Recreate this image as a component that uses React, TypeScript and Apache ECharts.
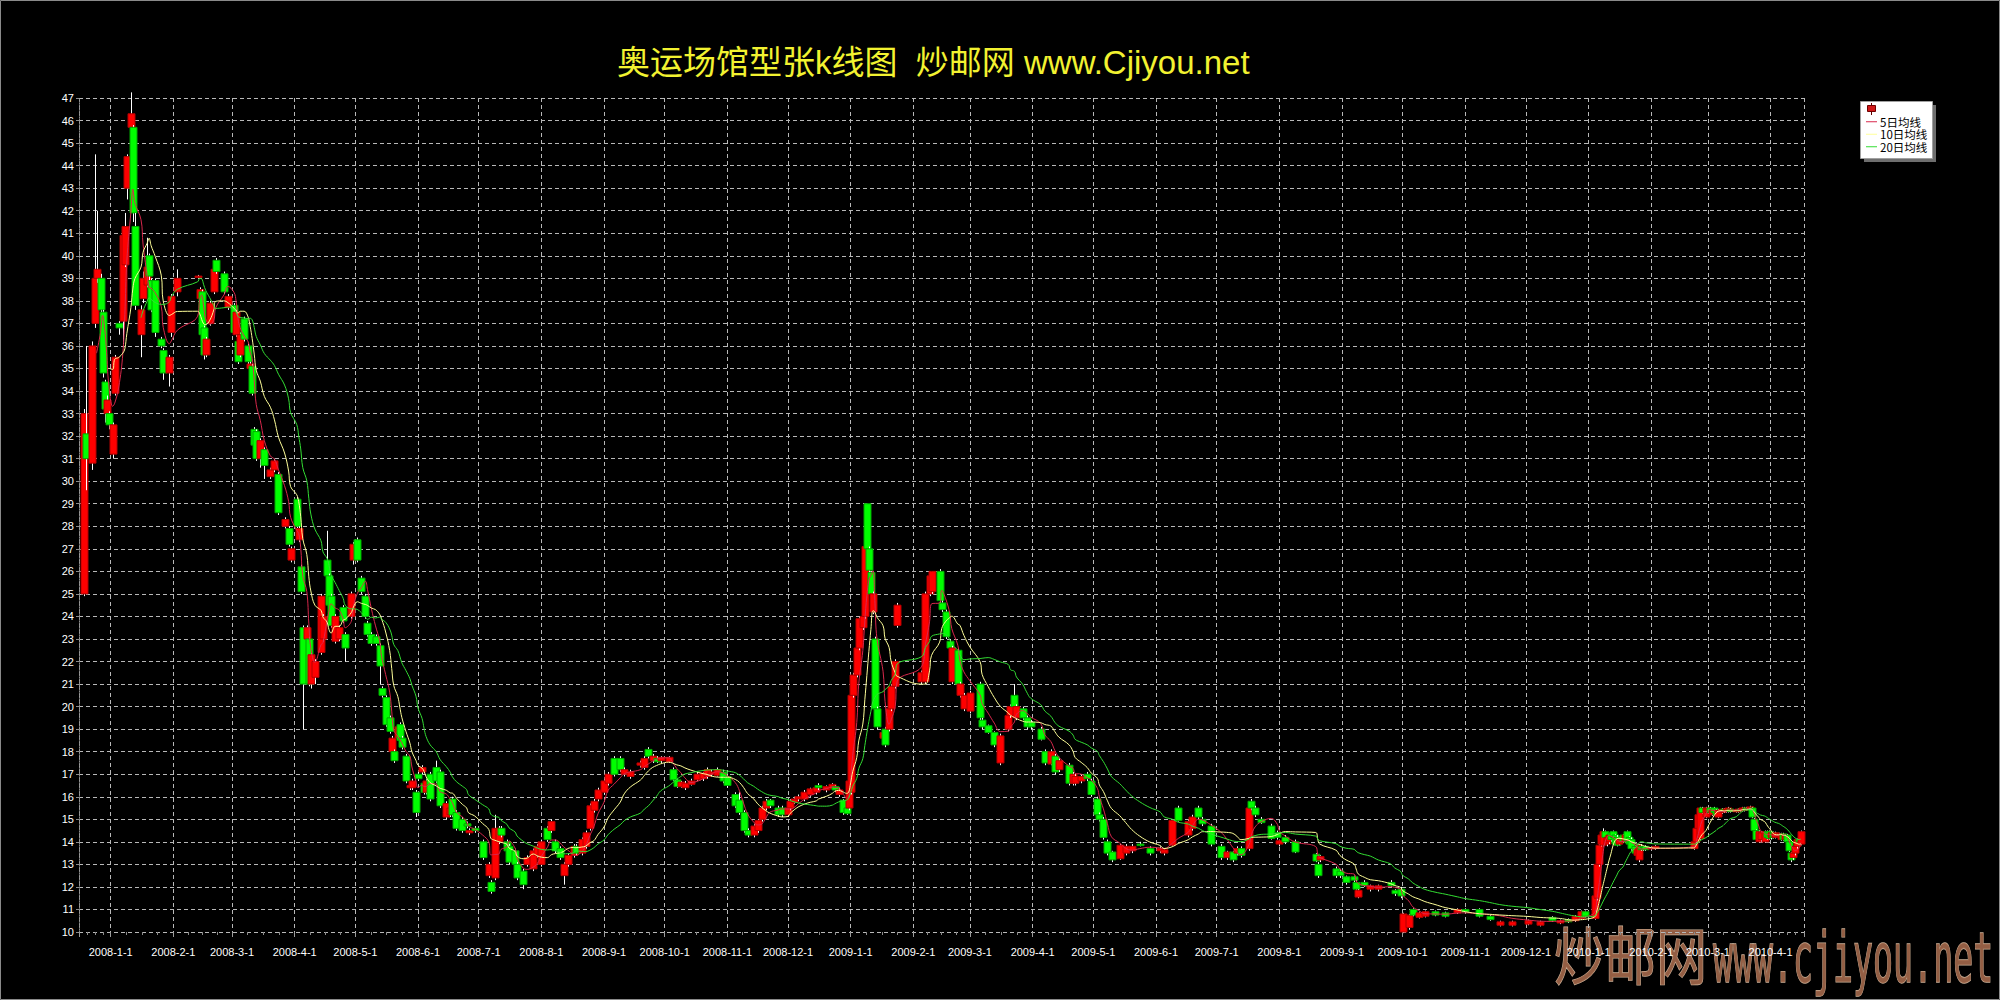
import React, { useEffect, useRef } from 'react';
import * as echarts from 'echarts';

const TITLE = '奥运场馆型张k线图  炒邮网 www.Cjiyou.net';
const WATERMARK_CN = '炒邮网';
const WATERMARK_EN = 'www.cjiyou.net';
const CANDLE_NAME = 'K线';
const MA_NAMES = ['5日均线', '10日均线', '20日均线'];
const MA_PERIODS = [5, 10, 20];
const MA_COLORS = ['#d8284c', '#ffff99', '#33dd33'];
const Y_MIN = 10;
const Y_MAX = 47;

// [date, open, close, low, high]
const k2007 = [
  ['2007-12-19', 25.0, 33.0, 24.9, 33.2],
  ['2007-12-20', 32.1, 31.0, 29.6, 36.0],
  ['2007-12-23', 30.8, 36.0, 30.5, 36.2],
  ['2007-12-24', 37.0, 39.0, 36.8, 44.5],
  ['2007-12-25', 39.0, 39.4, 38.8, 42.0],
  ['2007-12-27', 39.0, 37.6, 37.4, 39.2],
  ['2007-12-28', 37.5, 34.8, 34.6, 37.6],
  ['2007-12-29', 34.4, 33.2, 32.6, 34.5],
  ['2007-12-30', 33.0, 33.6, 32.8, 33.8],
  ['2007-12-31', 33.0, 32.5, 32.3, 33.1],
];

const k2008a = [
  ['2008-01-02', 31.2, 32.5, 31.0, 32.6],
  ['2008-01-03', 33.9, 35.5, 33.8, 35.6],
  ['2008-01-05', 37.0, 36.8, 36.5, 37.1],
  ['2008-01-07', 37.1, 40.9, 36.0, 41.2],
  ['2008-01-08', 39.6, 41.3, 39.5, 41.9],
  ['2008-01-09', 43.0, 44.4, 42.5, 44.5],
  ['2008-01-11', 45.7, 46.3, 45.6, 47.25],
  ['2008-01-12', 45.7, 41.9, 41.5, 45.8],
  ['2008-01-13', 41.3, 37.8, 37.6, 41.9],
  ['2008-01-16', 36.5, 37.6, 35.5, 37.8],
  ['2008-01-17', 38.1, 39.0, 37.9, 39.3],
  ['2008-01-19', 38.7, 39.5, 38.6, 40.8],
  ['2008-01-20', 40.0, 39.1, 38.9, 40.1],
  ['2008-01-21', 38.9, 37.6, 37.5, 39.0],
  ['2008-01-23', 38.9, 36.6, 36.4, 39.0],
  ['2008-01-26', 36.3, 36.0, 35.9, 36.4],
  ['2008-01-27', 35.8, 34.8, 34.5, 35.9],
  ['2008-01-30', 34.8, 35.5, 34.2, 35.6],
  ['2008-01-31', 36.6, 38.2, 36.4, 38.3],
  ['2008-02-03', 38.4, 39.0, 38.2, 39.4],
  ['2008-02-13', 39.05, 39.1, 39.0, 39.15],
  ['2008-02-14', 38.1, 38.5, 38.0, 38.6],
  ['2008-02-15', 38.4, 36.5, 36.4, 38.5],
  ['2008-02-16', 36.8, 35.6, 35.4, 36.9],
  ['2008-02-17', 35.6, 36.3, 35.5, 36.4],
  ['2008-02-19', 37.0, 37.9, 36.9, 38.0],
  ['2008-02-21', 38.4, 39.4, 38.3, 39.5],
  ['2008-02-22', 39.8, 39.3, 39.2, 39.9],
  ['2008-02-26', 39.2, 38.4, 38.3, 39.3],
  ['2008-02-28', 37.7, 38.2, 37.6, 38.3],
  ['2008-03-02', 37.8, 36.6, 36.5, 37.9],
  ['2008-03-03', 36.5, 37.5, 36.4, 37.6],
  ['2008-03-04', 36.2, 35.3, 35.2, 36.3],
  ['2008-03-05', 35.6, 36.5, 35.5, 36.6],
  ['2008-03-07', 37.2, 36.3, 36.2, 37.3],
  ['2008-03-09', 36.0, 35.3, 35.2, 36.1],
  ['2008-03-10', 35.0, 35.2, 34.9, 35.3],
  ['2008-03-11', 35.1, 33.9, 33.8, 35.2],
  ['2008-03-12', 32.3, 31.6, 31.5, 32.4],
  ['2008-03-13', 32.2, 31.0, 30.9, 32.3],
  ['2008-03-15', 31.0, 31.8, 30.6, 31.9],
  ['2008-03-17', 31.4, 30.7, 30.1, 31.5],
  ['2008-03-20', 30.2, 30.5, 30.1, 30.6],
  ['2008-03-22', 30.5, 30.9, 30.4, 31.0],
  ['2008-03-24', 30.3, 28.6, 28.5, 30.4],
  ['2008-03-27', 28.0, 28.3, 27.9, 28.4],
  ['2008-03-29', 27.9, 27.2, 27.1, 28.0],
  ['2008-03-30', 26.5, 27.0, 26.4, 27.1],
  ['2008-04-02', 29.2, 28.0, 27.9, 29.3],
  ['2008-04-03', 27.4, 27.9, 27.3, 28.0],
  ['2008-04-04', 26.2, 25.1, 25.0, 26.3],
  ['2008-04-05', 23.5, 21.0, 19.0, 23.6],
  ['2008-04-07', 23.0, 23.5, 22.8, 23.6],
  ['2008-04-08', 23.0, 21.0, 20.9, 23.1],
  ['2008-04-09', 21.0, 22.3, 20.8, 22.4],
  ['2008-04-11', 21.3, 22.0, 21.0, 22.1],
  ['2008-04-14', 22.4, 24.9, 22.3, 25.0],
  ['2008-04-15', 23.0, 24.0, 22.9, 24.1],
  ['2008-04-17', 26.5, 25.8, 25.7, 27.8],
  ['2008-04-18', 25.8, 24.5, 24.4, 25.9],
  ['2008-04-19', 24.9, 23.6, 23.5, 25.0],
  ['2008-04-21', 22.9, 24.0, 22.8, 24.1],
  ['2008-04-23', 23.0, 23.5, 22.9, 23.6],
  ['2008-04-25', 24.4, 23.8, 23.7, 24.5],
  ['2008-04-26', 23.2, 22.6, 22.0, 23.3],
  ['2008-04-29', 24.0, 25.0, 23.9, 25.1],
  ['2008-04-30', 26.5, 27.2, 26.3, 27.3],
];

const k2008b = [
  ['2008-05-02', 27.4, 26.5, 26.4, 27.5],
  ['2008-05-04', 25.7, 25.1, 25.0, 25.8],
  ['2008-05-06', 24.9, 24.0, 23.9, 25.0],
  ['2008-05-07', 23.7, 23.2, 23.1, 23.8],
  ['2008-05-09', 23.2, 22.8, 22.7, 23.3],
  ['2008-05-11', 23.1, 22.8, 22.7, 23.2],
  ['2008-05-13', 22.7, 21.8, 21.0, 22.8],
  ['2008-05-14', 20.8, 20.5, 20.4, 20.9],
  ['2008-05-16', 20.4, 19.2, 19.1, 20.5],
  ['2008-05-18', 19.5, 18.9, 18.8, 19.6],
  ['2008-05-19', 18.0, 18.6, 17.9, 18.7],
  ['2008-05-20', 18.0, 17.6, 17.5, 18.1],
  ['2008-05-22', 18.6, 19.1, 18.5, 19.2],
  ['2008-05-23', 19.2, 18.5, 18.4, 19.3],
  ['2008-05-24', 18.6, 18.2, 18.1, 18.7],
  ['2008-05-26', 17.8, 16.7, 16.6, 17.9],
  ['2008-05-28', 16.4, 16.5, 16.3, 16.6],
  ['2008-05-29', 16.4, 16.7, 16.3, 16.8],
  ['2008-05-31', 16.2, 15.3, 15.1, 16.3],
  ['2008-06-01', 17.0, 16.8, 16.7, 17.1],
  ['2008-06-03', 17.1, 17.3, 17.0, 17.4],
  ['2008-06-04', 16.6, 16.2, 16.1, 16.7],
  ['2008-06-05', 16.2, 16.7, 16.1, 16.8],
  ['2008-06-07', 17.0, 15.9, 15.8, 17.1],
  ['2008-06-10', 17.3, 16.7, 16.6, 17.6],
  ['2008-06-12', 17.1, 15.6, 15.5, 17.2],
  ['2008-06-15', 15.1, 15.7, 15.0, 15.8],
  ['2008-06-17', 15.2, 15.5, 15.1, 15.6],
  ['2008-06-18', 15.9, 15.2, 15.1, 16.0],
  ['2008-06-20', 15.3, 14.6, 14.5, 15.4],
  ['2008-06-23', 15.0, 14.5, 14.4, 15.1],
  ['2008-06-25', 14.8, 14.7, 14.6, 14.9],
  ['2008-06-26', 14.4, 14.5, 14.3, 14.6],
  ['2008-06-29', 14.6, 14.5, 14.4, 14.7],
  ['2008-07-03', 14.0, 13.3, 13.2, 14.1],
  ['2008-07-06', 12.5, 13.0, 12.4, 13.1],
  ['2008-07-07', 12.2, 11.8, 11.7, 12.3],
  ['2008-07-09', 12.4, 14.6, 12.3, 15.2],
  ['2008-07-11', 14.0, 14.6, 13.9, 14.7],
  ['2008-07-12', 14.6, 14.3, 14.2, 14.7],
  ['2008-07-15', 14.0, 13.6, 13.5, 14.1],
  ['2008-07-16', 13.8, 13.1, 13.0, 13.9],
  ['2008-07-19', 13.6, 13.0, 12.9, 13.7],
  ['2008-07-20', 13.0, 12.4, 12.3, 13.1],
  ['2008-07-23', 12.7, 12.1, 11.9, 12.8],
  ['2008-07-25', 13.0, 13.3, 12.9, 13.4],
  ['2008-07-28', 12.8, 13.6, 12.7, 13.7],
  ['2008-07-30', 13.4, 13.8, 13.3, 13.9],
  ['2008-08-01', 13.0, 14.0, 12.9, 14.1],
  ['2008-08-04', 14.6, 14.1, 14.0, 14.7],
  ['2008-08-06', 14.5, 14.9, 14.4, 15.0],
  ['2008-08-08', 14.0, 13.6, 13.5, 14.1],
  ['2008-08-10', 13.7, 13.3, 13.2, 13.8],
  ['2008-08-12', 12.5, 13.0, 12.1, 13.1],
  ['2008-08-14', 13.0, 13.4, 12.9, 13.5],
  ['2008-08-17', 13.4, 13.8, 13.3, 13.9],
  ['2008-08-18', 13.8, 13.5, 13.4, 13.9],
  ['2008-08-21', 13.5, 14.1, 13.4, 14.2],
  ['2008-08-23', 13.8, 14.4, 13.7, 14.5],
  ['2008-08-25', 14.6, 15.6, 14.5, 15.7],
  ['2008-08-27', 15.4, 15.8, 15.3, 15.9],
  ['2008-08-29', 15.9, 16.3, 15.8, 16.4],
];

const k2008c = [
  ['2008-09-01', 16.2, 16.7, 16.1, 16.8],
  ['2008-09-03', 16.6, 17.0, 16.5, 17.1],
  ['2008-09-06', 17.7, 17.0, 16.9, 17.8],
  ['2008-09-09', 17.7, 17.2, 17.1, 17.8],
  ['2008-09-11', 17.0, 17.2, 16.9, 17.3],
  ['2008-09-14', 16.9, 17.1, 16.8, 17.2],
  ['2008-09-19', 17.4, 17.5, 17.3, 17.6],
  ['2008-09-21', 17.3, 17.7, 17.2, 17.8],
  ['2008-09-23', 18.1, 17.8, 17.7, 18.2],
  ['2008-09-25', 17.6, 17.8, 17.5, 17.9],
  ['2008-09-27', 17.7, 17.55, 17.5, 17.8],
  ['2008-09-29', 17.6, 17.75, 17.5, 17.8],
  ['2008-10-03', 17.55, 17.75, 17.5, 17.8],
  ['2008-10-05', 17.2, 16.75, 16.7, 17.3],
  ['2008-10-07', 16.75, 16.45, 16.4, 16.8],
  ['2008-10-09', 16.45, 16.65, 16.4, 16.7],
  ['2008-10-11', 16.4, 16.6, 16.3, 16.7],
  ['2008-10-14', 16.55, 16.7, 16.5, 16.8],
  ['2008-10-17', 16.75, 17.0, 16.7, 17.1],
  ['2008-10-20', 16.8, 17.05, 16.7, 17.1],
  ['2008-10-22', 16.9, 17.2, 16.8, 17.3],
  ['2008-10-24', 17.0, 17.1, 16.9, 17.2],
  ['2008-10-27', 16.95, 17.2, 16.9, 17.3],
  ['2008-10-30', 17.1, 16.7, 16.6, 17.2],
  ['2008-11-01', 16.9, 16.5, 16.4, 17.0],
  ['2008-11-05', 16.1, 15.6, 15.5, 16.2],
  ['2008-11-07', 15.85, 15.3, 15.2, 16.2],
  ['2008-11-09', 15.3, 14.5, 14.4, 15.4],
  ['2008-11-11', 14.5, 14.3, 14.2, 14.6],
  ['2008-11-14', 14.3, 14.7, 14.2, 14.8],
  ['2008-11-16', 14.5, 14.95, 14.4, 15.0],
  ['2008-11-18', 15.0, 15.5, 14.9, 15.6],
  ['2008-11-20', 15.5, 15.8, 15.4, 15.9],
  ['2008-11-22', 15.85, 15.6, 15.5, 15.9],
  ['2008-11-26', 15.5, 15.2, 15.1, 15.6],
  ['2008-11-28', 15.5, 15.2, 15.1, 15.6],
  ['2008-12-01', 15.2, 15.5, 15.1, 15.6],
  ['2008-12-02', 15.5, 15.8, 15.4, 15.9],
  ['2008-12-04', 15.75, 15.9, 15.7, 16.0],
  ['2008-12-06', 15.9, 16.0, 15.8, 16.1],
  ['2008-12-09', 15.9, 16.2, 15.8, 16.3],
  ['2008-12-12', 16.1, 16.35, 16.0, 16.4],
  ['2008-12-15', 16.2, 16.4, 16.1, 16.5],
  ['2008-12-16', 16.5, 16.4, 16.3, 16.6],
  ['2008-12-20', 16.3, 16.45, 16.2, 16.5],
  ['2008-12-23', 16.35, 16.55, 16.3, 16.6],
  ['2008-12-24', 16.45, 16.3, 16.2, 16.5],
  ['2008-12-26', 16.1, 16.3, 16.0, 16.4],
  ['2008-12-28', 15.85, 15.3, 15.2, 15.9],
  ['2008-12-30', 15.5, 15.25, 15.2, 15.6],
  ['2008-12-31', 15.5, 16.7, 15.4, 16.8],
];

const k2009a = [
  ['2009-01-01', 16.2, 20.5, 16.1, 20.6],
  ['2009-01-02', 20.5, 21.4, 20.4, 21.5],
  ['2009-01-04', 21.4, 22.6, 21.3, 22.7],
  ['2009-01-05', 22.6, 23.9, 22.5, 24.0],
  ['2009-01-07', 23.5, 24.0, 23.4, 24.1],
  ['2009-01-08', 24.0, 27.1, 23.9, 27.2],
  ['2009-01-09', 29.0, 27.0, 26.9, 29.0],
  ['2009-01-10', 27.0, 26.05, 25.9, 27.1],
  ['2009-01-11', 25.95, 25.0, 24.9, 26.0],
  ['2009-01-12', 24.2, 25.0, 24.1, 25.1],
  ['2009-01-13', 23.0, 19.9, 19.8, 23.1],
  ['2009-01-14', 19.9, 19.1, 19.0, 20.0],
  ['2009-01-17', 18.6, 18.85, 18.5, 18.9],
  ['2009-01-18', 19.0, 18.3, 18.2, 19.1],
  ['2009-01-20', 19.0, 19.9, 18.9, 20.0],
  ['2009-01-21', 19.9, 20.9, 19.8, 21.0],
  ['2009-01-23', 20.9, 22.0, 20.8, 22.1],
  ['2009-01-24', 23.6, 24.5, 23.5, 24.6],
  ['2009-02-05', 21.1, 21.5, 21.0, 21.6],
  ['2009-02-07', 21.1, 25.0, 21.0, 25.1],
  ['2009-02-09', 25.0, 25.8, 24.9, 26.0],
  ['2009-02-10', 25.1, 26.0, 25.0, 26.0],
  ['2009-02-14', 26.0, 24.7, 24.6, 26.1],
  ['2009-02-15', 24.6, 24.3, 24.2, 24.7],
  ['2009-02-17', 24.2, 23.1, 23.0, 24.3],
  ['2009-02-19', 22.9, 22.6, 22.5, 23.0],
  ['2009-02-20', 21.1, 22.6, 21.0, 22.7],
  ['2009-02-23', 22.5, 21.0, 20.9, 22.6],
  ['2009-02-24', 20.5, 21.0, 20.4, 21.1],
  ['2009-02-26', 19.9, 20.5, 19.8, 20.6],
  ['2009-03-01', 19.8, 20.6, 19.7, 20.7],
  ['2009-03-06', 21.0, 19.5, 19.4, 21.1],
  ['2009-03-07', 19.4, 19.1, 19.0, 19.5],
  ['2009-03-10', 19.15, 18.85, 18.8, 19.2],
  ['2009-03-13', 18.85, 18.3, 18.2, 18.9],
  ['2009-03-16', 17.5, 18.7, 17.4, 18.8],
  ['2009-03-20', 19.0, 19.6, 18.9, 19.7],
  ['2009-03-21', 19.6, 20.0, 19.5, 20.1],
  ['2009-03-23', 20.5, 20.0, 19.9, 21.0],
  ['2009-03-24', 19.5, 20.0, 19.4, 20.1],
  ['2009-03-27', 19.9, 19.5, 19.4, 20.0],
  ['2009-03-29', 19.5, 19.1, 19.0, 19.6],
  ['2009-03-31', 19.3, 19.1, 19.0, 19.4],
  ['2009-04-05', 19.0, 18.55, 18.5, 19.1],
  ['2009-04-07', 18.0, 17.5, 17.4, 18.1],
  ['2009-04-10', 17.45, 18.0, 17.4, 18.1],
  ['2009-04-12', 17.8, 17.1, 17.0, 17.9],
  ['2009-04-14', 17.2, 17.6, 17.1, 17.7],
  ['2009-04-19', 17.4, 16.6, 16.5, 17.5],
  ['2009-04-21', 16.6, 17.0, 16.5, 17.1],
  ['2009-04-22', 16.6, 16.9, 16.5, 17.0],
  ['2009-04-25', 16.7, 16.9, 16.6, 17.0],
  ['2009-04-28', 17.0, 16.8, 16.7, 17.1],
  ['2009-04-30', 16.7, 16.1, 16.0, 16.8],
  ['2009-05-03', 15.9, 15.2, 15.1, 16.0],
  ['2009-05-04', 15.2, 15.0, 14.9, 15.3],
  ['2009-05-06', 15.0, 14.2, 14.1, 15.1],
  ['2009-05-08', 14.0, 13.5, 13.4, 14.1],
  ['2009-05-10', 13.55, 13.2, 13.1, 13.6],
  ['2009-05-14', 13.25, 13.85, 13.2, 13.9],
  ['2009-05-17', 13.5, 13.8, 13.4, 13.9],
  ['2009-05-20', 13.6, 13.8, 13.5, 13.9],
  ['2009-05-24', 13.9, 13.85, 13.8, 14.0],
  ['2009-05-29', 13.7, 13.5, 13.4, 13.8],
  ['2009-06-03', 13.6, 13.7, 13.5, 13.8],
  ['2009-06-05', 13.5, 13.65, 13.4, 13.7],
  ['2009-06-09', 13.85, 14.95, 13.8, 15.0],
  ['2009-06-12', 15.5, 14.95, 14.9, 15.6],
  ['2009-06-17', 14.3, 14.9, 14.2, 15.0],
  ['2009-06-19', 14.6, 15.1, 14.5, 15.2],
  ['2009-06-22', 15.5, 15.1, 15.0, 15.6],
  ['2009-06-24', 15.0, 14.8, 14.7, 15.1],
  ['2009-06-28', 14.7, 13.9, 13.8, 14.8],
];

const k2009b = [
  ['2009-07-03', 13.8, 13.3, 13.2, 13.9],
  ['2009-07-06', 13.3, 13.55, 13.2, 13.6],
  ['2009-07-09', 13.55, 13.2, 13.1, 13.6],
  ['2009-07-11', 13.5, 13.7, 13.4, 13.8],
  ['2009-07-13', 13.7, 13.4, 13.3, 13.8],
  ['2009-07-17', 13.7, 15.5, 13.6, 15.6],
  ['2009-07-18', 15.8, 15.5, 15.4, 15.9],
  ['2009-07-20', 15.5, 15.2, 15.1, 15.6],
  ['2009-07-23', 15.0, 14.85, 14.8, 15.1],
  ['2009-07-28', 14.7, 14.15, 14.1, 14.8],
  ['2009-07-31', 14.4, 14.2, 14.1, 14.5],
  ['2009-08-01', 13.9, 14.05, 13.8, 14.1],
  ['2009-08-04', 14.2, 14.0, 13.9, 14.3],
  ['2009-08-09', 14.0, 13.55, 13.5, 14.1],
  ['2009-08-19', 13.45, 13.15, 13.1, 13.5],
  ['2009-08-20', 13.0, 12.5, 12.4, 13.1],
  ['2009-08-21', 13.2, 13.35, 13.1, 13.4],
  ['2009-08-29', 12.8, 12.5, 12.4, 12.9],
  ['2009-08-31', 12.7, 12.5, 12.4, 12.8],
  ['2009-09-03', 12.45, 12.2, 12.1, 12.5],
  ['2009-09-07', 12.45, 12.3, 12.2, 12.5],
  ['2009-09-08', 12.2, 11.9, 11.8, 12.3],
  ['2009-09-09', 11.55, 11.85, 11.5, 11.9],
  ['2009-09-12', 12.2, 12.05, 12.0, 12.3],
  ['2009-09-15', 11.9, 12.05, 11.8, 12.1],
  ['2009-09-19', 11.9, 12.05, 11.8, 12.1],
  ['2009-09-25', 12.2, 12.05, 12.0, 12.3],
  ['2009-09-27', 11.85, 11.7, 11.6, 11.9],
  ['2009-09-30', 11.9, 11.6, 11.5, 12.0],
  ['2009-10-01', 10.0, 10.8, 9.95, 10.85],
  ['2009-10-04', 10.2, 10.75, 10.1, 10.8],
  ['2009-10-06', 11.0, 10.75, 10.7, 11.05],
  ['2009-10-09', 10.65, 10.85, 10.6, 10.9],
  ['2009-10-12', 10.7, 10.9, 10.65, 10.95],
  ['2009-10-17', 10.9, 10.75, 10.7, 10.95],
  ['2009-10-22', 10.85, 10.7, 10.65, 10.9],
  ['2009-10-28', 10.85, 11.0, 10.8, 11.05],
  ['2009-11-01', 11.0, 10.9, 10.85, 11.05],
  ['2009-11-08', 11.0, 10.7, 10.65, 11.05],
  ['2009-11-13', 10.7, 10.55, 10.5, 10.75],
  ['2009-11-18', 10.3, 10.45, 10.25, 10.5],
  ['2009-11-24', 10.3, 10.45, 10.25, 10.5],
  ['2009-12-02', 10.35, 10.5, 10.3, 10.55],
  ['2009-12-08', 10.3, 10.45, 10.25, 10.5],
  ['2009-12-14', 10.65, 10.5, 10.45, 10.7],
  ['2009-12-18', 10.4, 10.5, 10.35, 10.55],
  ['2009-12-22', 10.55, 10.45, 10.4, 10.6],
  ['2009-12-25', 10.5, 10.7, 10.45, 10.75],
  ['2009-12-28', 10.6, 10.9, 10.55, 10.95],
  ['2009-12-30', 10.9, 10.7, 10.65, 10.95],
];

const k2010 = [
  ['2010-01-04', 10.6, 11.6, 10.55, 11.7],
  ['2010-01-05', 11.5, 13.0, 11.4, 13.1],
  ['2010-01-06', 13.0, 13.85, 12.9, 13.9],
  ['2010-01-07', 13.9, 14.3, 13.8, 14.4],
  ['2010-01-08', 13.85, 14.45, 13.8, 14.6],
  ['2010-01-09', 14.45, 14.2, 14.1, 14.5],
  ['2010-01-10', 13.9, 14.2, 13.8, 14.3],
  ['2010-01-11', 14.0, 14.3, 13.9, 14.35],
  ['2010-01-12', 14.4, 14.1, 14.0, 14.45],
  ['2010-01-13', 14.45, 14.2, 14.1, 14.5],
  ['2010-01-14', 14.3, 13.9, 13.85, 14.35],
  ['2010-01-15', 14.2, 13.85, 13.8, 14.3],
  ['2010-01-16', 13.9, 14.1, 13.85, 14.15],
  ['2010-01-18', 14.3, 14.0, 13.95, 14.35],
  ['2010-01-19', 14.0, 14.3, 13.95, 14.4],
  ['2010-01-20', 14.45, 14.0, 13.9, 14.5],
  ['2010-01-21', 14.2, 13.9, 13.85, 14.25],
  ['2010-01-22', 14.1, 13.7, 13.6, 14.2],
  ['2010-01-24', 13.8, 13.5, 13.4, 13.85],
  ['2010-01-25', 13.4, 13.7, 13.2, 13.75],
  ['2010-01-26', 13.2, 13.85, 13.1, 13.9],
  ['2010-01-27', 13.8, 13.65, 13.6, 13.9],
  ['2010-01-28', 13.75, 13.7, 13.6, 13.8],
  ['2010-01-29', 13.8, 13.65, 13.6, 13.85],
  ['2010-02-01', 13.7, 13.75, 13.65, 13.8],
  ['2010-02-03', 13.7, 13.8, 13.65, 13.85],
  ['2010-02-22', 13.7, 14.0, 13.65, 14.05],
  ['2010-02-23', 14.0, 14.6, 13.95, 14.65],
  ['2010-02-24', 14.6, 15.2, 14.55, 15.25],
  ['2010-02-25', 14.15, 15.5, 14.1, 15.55],
  ['2010-02-26', 15.5, 15.3, 15.25, 15.55],
  ['2010-02-28', 15.1, 15.5, 15.05, 15.55],
  ['2010-03-01', 15.3, 15.5, 15.25, 15.55],
  ['2010-03-02', 15.5, 15.3, 15.2, 15.55],
  ['2010-03-03', 15.2, 15.4, 15.15, 15.45],
  ['2010-03-04', 15.5, 15.3, 15.25, 15.55],
  ['2010-03-05', 15.4, 15.2, 15.15, 15.45],
  ['2010-03-06', 15.1, 15.4, 15.05, 15.45],
  ['2010-03-08', 15.3, 15.45, 15.25, 15.5],
  ['2010-03-09', 15.45, 15.35, 15.3, 15.5],
  ['2010-03-10', 15.35, 15.45, 15.3, 15.5],
  ['2010-03-11', 15.35, 15.5, 15.3, 15.55],
  ['2010-03-12', 15.45, 15.35, 15.3, 15.5],
  ['2010-03-15', 15.35, 15.4, 15.3, 15.45],
  ['2010-03-16', 15.35, 15.45, 15.3, 15.5],
  ['2010-03-17', 15.45, 15.4, 15.35, 15.5],
  ['2010-03-18', 15.4, 15.5, 15.35, 15.55],
  ['2010-03-19', 15.4, 15.5, 15.35, 15.55],
  ['2010-03-20', 15.5, 15.45, 15.4, 15.55],
  ['2010-03-22', 15.45, 15.55, 15.4, 15.6],
  ['2010-03-23', 15.5, 15.1, 15.05, 15.55],
  ['2010-03-24', 15.0, 14.5, 14.45, 15.05],
  ['2010-03-25', 14.5, 14.1, 14.0, 14.55],
  ['2010-03-26', 14.0, 14.45, 13.95, 14.5],
  ['2010-03-27', 14.1, 14.4, 14.0, 14.45],
  ['2010-03-29', 14.0, 14.45, 13.95, 14.5],
  ['2010-03-30', 14.45, 14.2, 14.1, 14.5],
  ['2010-03-31', 14.45, 14.15, 14.1, 14.5],
  ['2010-04-01', 14.2, 14.4, 14.1, 14.45],
  ['2010-04-02', 14.4, 14.2, 14.15, 14.45],
  ['2010-04-03', 14.2, 14.4, 14.15, 14.45],
  ['2010-04-05', 14.2, 14.35, 14.1, 14.4],
  ['2010-04-06', 14.1, 14.35, 14.05, 14.4],
  ['2010-04-07', 14.35, 14.1, 14.05, 14.4],
  ['2010-04-08', 14.1, 14.3, 14.0, 14.35],
  ['2010-04-09', 14.3, 14.0, 13.95, 14.35],
  ['2010-04-10', 14.0, 13.6, 13.55, 14.05],
  ['2010-04-11', 13.5, 13.2, 13.1, 13.55],
  ['2010-04-12', 13.3, 13.5, 13.2, 13.55],
  ['2010-04-13', 13.5, 13.8, 13.4, 13.85],
  ['2010-04-14', 13.8, 14.1, 13.7, 14.15],
  ['2010-04-15', 14.1, 14.0, 13.9, 14.2],
  ['2010-04-16', 13.9, 14.45, 13.85, 14.5],
];

const utc = (s: string, h = 0) => {
  const [y, m, d] = s.split('-').map(Number);
  return Date.UTC(y, m - 1, d, h);
};

const X_MIN = utc('2007-12-16', 8);
const X_MAX = utc('2010-04-17', 12);

export default function App() {
  const ref = useRef<HTMLDivElement>(null);

  useEffect(() => {
    document.body.style.margin = '0';
    document.body.style.background = '#000';
    const chart = echarts.init(ref.current!, null, { renderer: 'svg' });

    const candles = [...k2007, ...k2008a, ...k2008b, ...k2008c, ...k2009a, ...k2009b, ...k2010] as any[];
    const kData = candles.map((c) => [utc(c[0]), c[1], c[2], c[3], c[4]]);

    const maData = (n: number) => {
      const out: any[] = [];
      for (let i = n - 1; i < kData.length; i++) {
        let s = 0;
        for (let j = i - n + 1; j <= i; j++) s += kData[j][2];
        out.push([kData[i][0], +(s / n).toFixed(3)]);
      }
      return out;
    };

    const dash = [4, 3];
    const gridColor = '#b8b8b8';
    const wmFill = 'rgba(160,102,74,0.92)';
    const wmStroke = 'rgba(235,205,175,0.85)';

    const option: any = {
      animation: false,
      useUTC: true,
      backgroundColor: '#000',
      title: {
        text: TITLE,
        left: 612,
        top: 41,
        textStyle: {
          color: '#f2f230',
          fontSize: 33,
          fontWeight: 'normal',
          fontFamily: '"Liberation Sans", "Noto Sans CJK SC", sans-serif',
        },
      },
      legend: {
        orient: 'vertical',
        left: 1866,
        top: 116,
        itemWidth: 11,
        itemHeight: 1,
        itemGap: 1,
        padding: 0,
        icon: 'rect',
        selectedMode: false,
        textStyle: { color: '#000', fontSize: 11.5, fontFamily: '"Noto Sans CJK SC", sans-serif', padding: [0, 0, 0, -2] },
        data: MA_NAMES,
      },
      grid: { left: 79, right: 196, top: 98, bottom: 68, containLabel: false },
      xAxis: {
        type: 'time',
        min: X_MIN,
        max: X_MAX,
        splitNumber: 28,
        minInterval: 27 * 86400000,
        axisLine: { show: false },
        axisTick: { show: true, length: 5, lineStyle: { color: '#9a9a9a' } },
        minorTick: { show: true, splitNumber: 4, length: 3, lineStyle: { color: '#8a8a8a' } },
        axisLabel: {
          color: '#ffffff',
          fontSize: 11,
          margin: 14,
          hideOverlap: false,
          fontFamily: '"Liberation Sans", Arial, sans-serif',
          formatter: (v: number) => {
            const d = new Date(v);
            return `${d.getUTCFullYear()}-${d.getUTCMonth() + 1}-${d.getUTCDate()}`;
          },
        },
        splitLine: { show: true, lineStyle: { color: gridColor, type: dash, width: 1 } },
      },
      yAxis: {
        type: 'value',
        min: Y_MIN,
        max: Y_MAX,
        interval: 1,
        axisLine: { show: true, lineStyle: { color: '#8a8a8a', type: 'dotted' } },
        axisTick: { show: true, length: 3, lineStyle: { color: '#8a8a8a' } },
        axisLabel: {
          color: '#ffffff',
          fontSize: 11,
          margin: 5,
          fontFamily: '"Liberation Sans", Arial, sans-serif',
        },
        splitLine: { show: true, lineStyle: { color: gridColor, type: dash, width: 1 } },
      },
      graphic: [
        { type: 'rect', z: -5, shape: { x: 1864, y: 105, width: 72, height: 57 }, style: { fill: '#6e6e6e' } },
        { type: 'rect', z: -4, shape: { x: 1860.5, y: 101.5, width: 72, height: 57 }, style: { fill: '#ffffff', stroke: '#a0a0a0', lineWidth: 1 } },
        {
          type: 'group',
          z: 10,
          children: [
            { type: 'line', shape: { x1: 1871.5, y1: 103, x2: 1871.5, y2: 115 }, style: { stroke: '#600000', lineWidth: 1 } },
            { type: 'rect', shape: { x: 1867.5, y: 105.5, width: 8, height: 6 }, style: { fill: '#d01818', stroke: '#700000', lineWidth: 1 } },
          ],
        },
        {
          type: 'text',
          z: -10,
          x: 1554,
          y: 921,
          scaleX: 0.81,
          style: {
            text: WATERMARK_CN,
            fontSize: 63,
            fontFamily: '"Noto Sans CJK SC", sans-serif',
            fill: wmFill,
            stroke: wmStroke,
            lineWidth: 1.2,
            verticalAlign: 'top',
          },
        },
        {
          type: 'text',
          z: -10,
          x: 1713,
          y: 923,
          scaleX: 0.475,
          style: {
            text: WATERMARK_EN,
            fontSize: 70,
            fontFamily: '"DejaVu Sans Mono", monospace',
            fill: wmFill,
            stroke: wmStroke,
            lineWidth: 1.4,
            verticalAlign: 'top',
          },
        },
        { type: 'rect', z: 100, shape: { x: 0.5, y: 0.5, width: 1999, height: 999 }, style: { fill: 'none', stroke: '#8a8a8a', lineWidth: 1 } },
      ],
      series: [
        {
          name: CANDLE_NAME,
          type: 'custom',
          z: 2,
          dimensions: ['date', 'open', 'close', 'low', 'high'],
          encode: { x: 0, y: [1, 2, 3, 4] },
          data: kData,
          renderItem: (params: any, api: any) => {
            const t = api.value(0);
            const o = api.value(1);
            const c = api.value(2);
            const l = api.value(3);
            const h = api.value(4);
            const pO = api.coord([t, o]);
            const yc = api.coord([t, c])[1];
            const yl = api.coord([t, l])[1];
            const yh = api.coord([t, h])[1];
            const xc = Math.round(pO[0]);
            const up = c >= o;
            const top = Math.min(pO[1], yc);
            const bh = Math.max(Math.abs(pO[1] - yc), 1.5);
            return {
              type: 'group',
              children: [
                { type: 'line', shape: { x1: xc + 0.5, y1: yh, x2: xc + 0.5, y2: yl }, style: { stroke: '#ffffff', lineWidth: 1 } },
                {
                  type: 'rect',
                  shape: { x: xc - 3, y: top, width: 7, height: bh },
                  style: { fill: up ? '#ff0000' : '#00ff00', stroke: up ? '#b40000' : '#00a800', lineWidth: 1 },
                },
              ],
            };
          },
        },
        ...MA_PERIODS.map((n, i) => ({
          name: MA_NAMES[i],
          type: 'line',
          z: 3,
          data: maData(n),
          symbol: 'none',
          showSymbol: false,
          smooth: 0.4,
          itemStyle: { color: MA_COLORS[i] },
          lineStyle: { color: MA_COLORS[i], width: 1 },
        })),
      ],
    };

    chart.setOption(option);
    return () => chart.dispose();
  }, []);

  return <div ref={ref} style={{ position: 'absolute', left: 0, top: 0, width: 2000, height: 1000, background: '#000' }} />;
}
